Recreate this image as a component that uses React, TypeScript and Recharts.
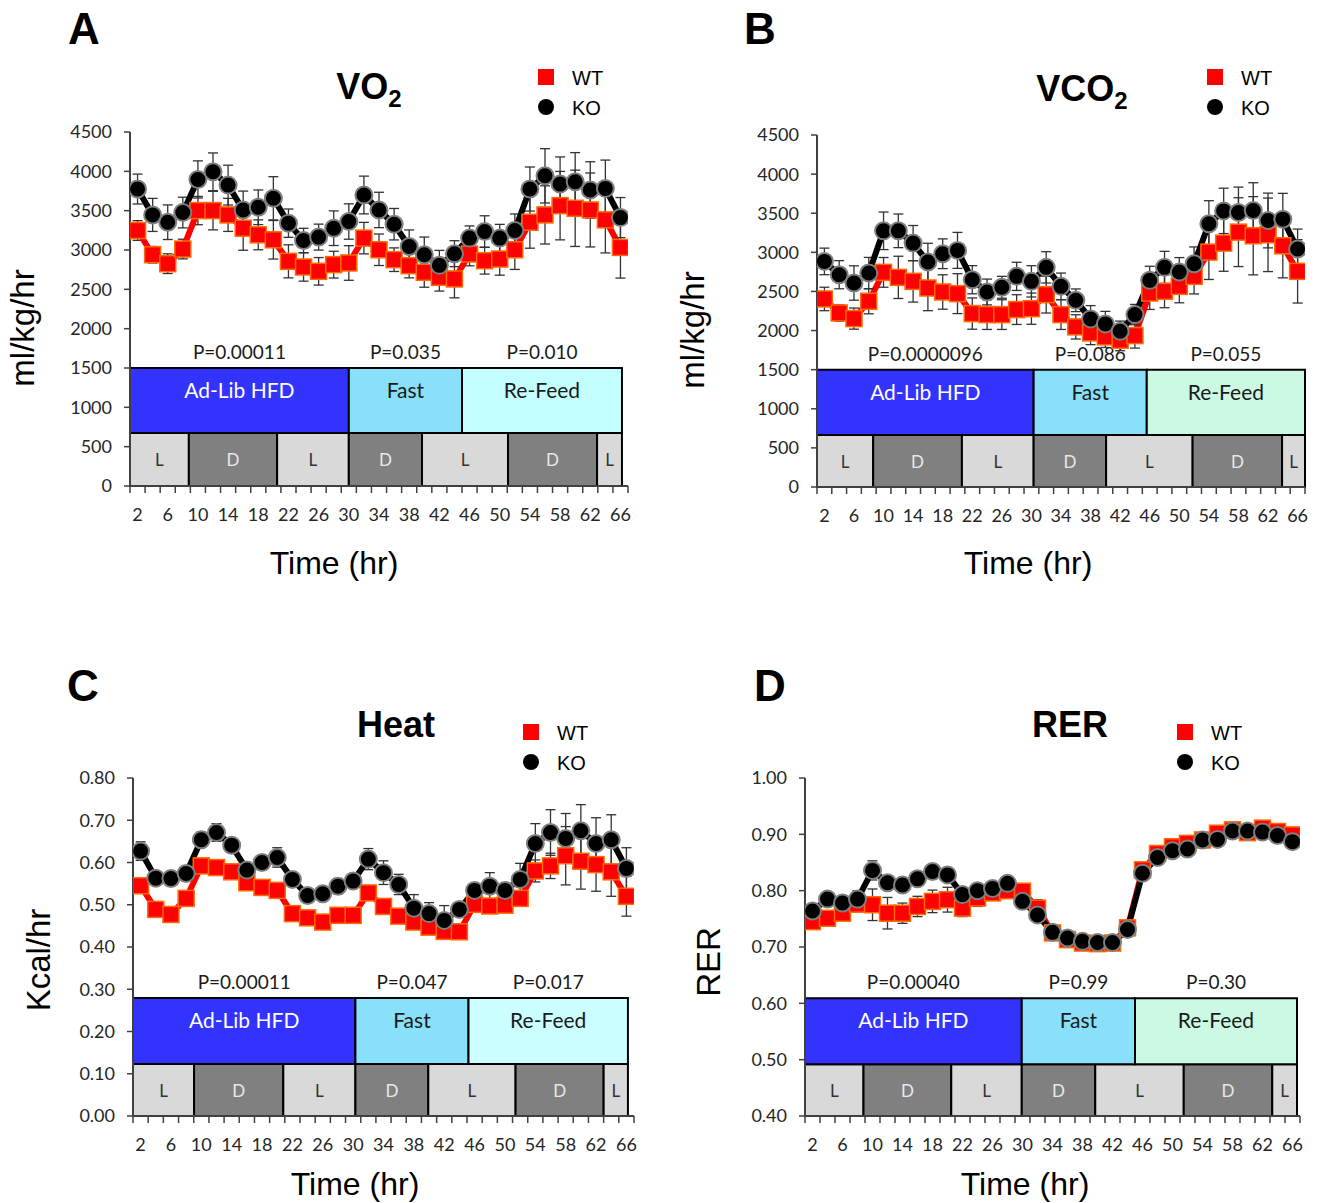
import React from "react";
import { ComposedChart, Line, XAxis, YAxis, ErrorBar, ReferenceArea } from "recharts";

const hours = [2, 4, 6, 8, 10, 12, 14, 16, 18, 20, 22, 24, 26, 28, 30, 32, 34, 36, 38, 40, 42, 44, 46, 48, 50, 52, 54, 56, 58, 60, 62, 64, 66];
const tickLabels = [2, 6, 10, 14, 18, 22, 26, 30, 34, 38, 42, 46, 50, 54, 58, 62, 66];

// VO2 (ml/kg/hr)
const vo2WT = [3248, 2940, 2826, 3012, 3501, 3501, 3446, 3277, 3193, 3130, 2856, 2784, 2729, 2814, 2835, 3151, 3003, 2877, 2801, 2717, 2653, 2632, 2949, 2864, 2885, 3003, 3353, 3446, 3564, 3530, 3509, 3383, 3033];
const vo2KO = [3775, 3446, 3353, 3476, 3897, 3994, 3825, 3509, 3543, 3657, 3341, 3121, 3164, 3277, 3362, 3699, 3509, 3328, 3045, 2940, 2805, 2953, 3151, 3235, 3151, 3248, 3775, 3943, 3838, 3868, 3762, 3783, 3412];
const vo2WTErr = [125, 105, 125, 125, 180, 245, 210, 280, 190, 245, 210, 180, 175, 170, 220, 200, 200, 150, 155, 190, 175, 240, 150, 170, 205, 250, 330, 370, 435, 485, 470, 420, 390];
const vo2KOErr = [190, 210, 220, 195, 236, 240, 253, 240, 220, 275, 180, 155, 165, 220, 225, 240, 225, 200, 210, 225, 190, 165, 155, 200, 175, 210, 280, 345, 345, 370, 360, 360, 255];

// VCO2 (ml/kg/hr)
const vco2WT = [2404, 2225, 2153, 2374, 2744, 2680, 2629, 2544, 2493, 2472, 2217, 2204, 2204, 2268, 2280, 2459, 2204, 2047, 1970, 1919, 1877, 1936, 2480, 2502, 2565, 2693, 3003, 3118, 3258, 3212, 3224, 3084, 2757];
const vco2KO = [2884, 2714, 2608, 2735, 3275, 3275, 3118, 2876, 2982, 3025, 2650, 2493, 2553, 2693, 2629, 2808, 2565, 2387, 2149, 2085, 1991, 2204, 2642, 2808, 2748, 2854, 3365, 3530, 3509, 3535, 3407, 3424, 3042];
const vco2WTErr = [150, 105, 135, 160, 190, 270, 265, 290, 220, 255, 200, 190, 190, 190, 200, 235, 190, 155, 150, 135, 135, 160, 210, 210, 210, 225, 350, 360, 440, 500, 470, 410, 405];
const vco2KOErr = [170, 180, 220, 200, 240, 215, 225, 240, 190, 230, 180, 165, 140, 180, 200, 200, 170, 145, 170, 160, 130, 130, 180, 205, 185, 215, 295, 290, 325, 355, 350, 330, 255];

// Heat (Kcal/hr)
const heatWT = [0.545, 0.489, 0.477, 0.515, 0.592, 0.588, 0.578, 0.552, 0.541, 0.534, 0.479, 0.469, 0.459, 0.475, 0.475, 0.528, 0.496, 0.473, 0.459, 0.447, 0.437, 0.436, 0.501, 0.497, 0.499, 0.515, 0.58, 0.592, 0.616, 0.603, 0.595, 0.578, 0.52];
const heatKO = [0.627, 0.563, 0.562, 0.574, 0.654, 0.671, 0.641, 0.582, 0.6, 0.612, 0.56, 0.522, 0.526, 0.544, 0.556, 0.608, 0.576, 0.548, 0.492, 0.479, 0.463, 0.489, 0.534, 0.544, 0.534, 0.56, 0.645, 0.671, 0.657, 0.675, 0.645, 0.654, 0.586];
const heatWTErr = [0.012, 0.01, 0.01, 0.012, 0.012, 0.01, 0.01, 0.012, 0.01, 0.01, 0.01, 0.008, 0.01, 0.01, 0.01, 0.012, 0.01, 0.01, 0.01, 0.01, 0.01, 0.012, 0.012, 0.012, 0.012, 0.014, 0.026, 0.03, 0.069, 0.066, 0.063, 0.058, 0.047];
const heatKOErr = [0.022, 0.01, 0.01, 0.012, 0.018, 0.021, 0.012, 0.01, 0.01, 0.023, 0.01, 0.008, 0.008, 0.018, 0.01, 0.025, 0.028, 0.024, 0.032, 0.026, 0.035, 0.015, 0.01, 0.032, 0.015, 0.038, 0.047, 0.054, 0.059, 0.062, 0.061, 0.059, 0.049];

// RER
const rerWT = [0.745, 0.751, 0.76, 0.776, 0.775, 0.76, 0.76, 0.772, 0.781, 0.784, 0.769, 0.787, 0.796, 0.8, 0.799, 0.769, 0.725, 0.713, 0.707, 0.706, 0.707, 0.734, 0.837, 0.866, 0.878, 0.884, 0.89, 0.902, 0.908, 0.903, 0.911, 0.905, 0.899];
const rerKO = [0.764, 0.785, 0.778, 0.785, 0.836, 0.814, 0.81, 0.821, 0.834, 0.828, 0.793, 0.8, 0.804, 0.813, 0.781, 0.757, 0.726, 0.716, 0.71, 0.708, 0.708, 0.731, 0.831, 0.859, 0.871, 0.874, 0.89, 0.891, 0.906, 0.906, 0.904, 0.898, 0.887];
const rerWTErr = [0.01, 0.01, 0.012, 0.012, 0.028, 0.028, 0.018, 0.018, 0.02, 0.022, 0.015, 0.015, 0.012, 0.012, 0.012, 0.015, 0.01, 0.008, 0.006, 0.006, 0.006, 0.006, 0.012, 0.012, 0.012, 0.012, 0.01, 0.01, 0.008, 0.008, 0.008, 0.008, 0.008];
const rerKOErr = [0.008, 0.008, 0.01, 0.015, 0.017, 0.012, 0.01, 0.01, 0.01, 0.012, 0.01, 0.008, 0.01, 0.01, 0.008, 0.008, 0.006, 0.006, 0.006, 0.006, 0.006, 0.006, 0.01, 0.012, 0.012, 0.012, 0.01, 0.008, 0.008, 0.008, 0.008, 0.008, 0.008];

// light/dark and feeding phase boxes (hour edges)
const ldNames = ["L", "D", "L", "D", "L", "D", "L"];
const phaseNames = ["Ad-Lib HFD", "Fast", "Re-Feed"];
const vo2P = ["P=0.00011", "P=0.035", "P=0.010"];
const vco2P = ["P=0.0000096", "P=0.086", "P=0.055"];
const heatP = ["P=0.00011", "P=0.047", "P=0.017"];
const rerP = ["P=0.00040", "P=0.99", "P=0.30"];

const W = 1318;
const H = 1203;
const YW = 80;
const XH = 50;
const CAL = "Lato, 'Open Sans', sans-serif";
const ARIAL = "'Liberation Sans', Arial, sans-serif";
const tickMarks = [...hours.map((h) => h - 1), 67];
const allTicks = [...tickMarks, ...tickLabels].sort((a, b) => a - b);

function TimeTick(props: any) {
  const { x, y, payload } = props;
  const v = payload.value;
  if (tickLabels.includes(v)) {
    return (
      <text x={x} y={y + 35} textAnchor="middle" fontSize={18} fontFamily={CAL} fill="#262626">
        {v}
      </text>
    );
  }
  return <line x1={x} x2={x} y1={y} y2={y + 7} stroke="#404040" strokeWidth={1.5} />;
}

function BoxLabel(props: any) {
  const { viewBox, name, p, color, size } = props;
  const { x, y, width, height } = viewBox;
  const cx = x + width / 2;
  return (
    <g>
      {p && (
        <text x={cx} y={y - 9} textAnchor="middle" fontSize={19} fontFamily={CAL} fill="#1a1a1a">
          {p}
        </text>
      )}
      <text
        x={cx}
        y={p ? y + 30 : y + height / 2 + 7}
        textAnchor="middle"
        fontSize={size}
        fontFamily={CAL}
        fill={color}
      >
        {name}
      </text>
    </g>
  );
}

function Square(props: any) {
  const { cx, cy, index } = props;
  return <rect key={index} x={cx - 8} y={cy - 8} width={16} height={16} fill="#FF0000" stroke="#FF6A00" strokeWidth={1.5} />;
}

type PanelCfg = {
  plot: { x0: number; x1: number; y0: number; y1: number };
  domain: [number, number];
  yTicks: number[];
  digits: number;
  wt: number[];
  ko: number[];
  wtErr: number[];
  koErr: number[];
  ldEdges: number[];
  phaseEdges: number[];
  ldTop: number;
  phaseTop: number;
  pvals: string[];
  refeed: string;
};

function Panel({ cfg }: { cfg: PanelCfg }) {
  const { plot } = cfg;
  const data = hours.map((t, i) => ({ t, wt: cfg.wt[i], ko: cfg.ko[i], wtErr: cfg.wtErr[i], koErr: cfg.koErr[i] }));
  const phaseColors = ["#3333FF", "#88E0FA", cfg.refeed];
  const phaseText = ["#FFFFFF", "#1a1a1a", "#1a1a1a"];
  return (
    <div style={{ position: "absolute", left: 0, top: 0 }}>
      <ComposedChart
        width={W}
        height={H}
        data={data}
        margin={{ top: plot.y0, left: plot.x0 - YW, right: W - plot.x1, bottom: H - plot.y1 - XH }}
      >
        <XAxis
          dataKey="t"
          type="number"
          domain={[1, 67]}
          ticks={allTicks}
          interval={0}
          allowDataOverflow
          height={XH}
          tickSize={0}
          tickMargin={0}
          tickLine={false}
          axisLine={{ stroke: "#404040", strokeWidth: 2 }}
          tick={(p: any) => <TimeTick key={p.index} {...p} />}
        />
        <YAxis
          type="number"
          domain={cfg.domain}
          ticks={cfg.yTicks}
          interval={0}
          allowDataOverflow
          width={YW}
          tickSize={6}
          tickMargin={12}
          axisLine={{ stroke: "#404040", strokeWidth: 2 }}
          tickLine={{ stroke: "#404040", strokeWidth: 1.5 }}
          tick={{ fontSize: 18, fontFamily: CAL, fill: "#262626" }}
          tickFormatter={(v: number) => v.toFixed(cfg.digits)}
        />
        {ldNames.map((n, i) => (
          <ReferenceArea
            key={"ld" + i}
            x1={cfg.ldEdges[i]}
            x2={cfg.ldEdges[i + 1]}
            y1={cfg.domain[0]}
            y2={cfg.ldTop}
            fill={n === "L" ? "#D9D9D9" : "#808080"}
            fillOpacity={1}
            stroke="#000"
            strokeWidth={2}
            ifOverflow="visible"
            label={<BoxLabel name={n} size={17} color={n === "L" ? "#333" : "#E8E8E8"} />}
          />
        ))}
        {phaseNames.map((n, i) => (
          <ReferenceArea
            key={"ph" + i}
            x1={cfg.phaseEdges[i]}
            x2={cfg.phaseEdges[i + 1]}
            y1={cfg.ldTop}
            y2={cfg.phaseTop}
            fill={phaseColors[i]}
            fillOpacity={1}
            stroke="#000"
            strokeWidth={2}
            ifOverflow="visible"
            label={<BoxLabel name={n} p={cfg.pvals[i]} size={21} color={phaseText[i]} />}
          />
        ))}
        <Line dataKey="wt" stroke="#FF0000" strokeWidth={6} dot={(p: any) => <Square key={p.index} {...p} />} isAnimationActive={false}>
          <ErrorBar dataKey="wtErr" direction="y" width={5} stroke="#333" strokeWidth={1.3} />
        </Line>
        <Line
          dataKey="ko"
          stroke="#000000"
          strokeWidth={6}
          dot={{ r: 8.5, fill: "#000", stroke: "#7F7F7F", strokeWidth: 2 }}
          isAnimationActive={false}
        >
          <ErrorBar dataKey="koErr" direction="y" width={5} stroke="#333" strokeWidth={1.3} />
        </Line>
      </ComposedChart>
    </div>
  );
}

function Txt({ x, y, size, bold, children, rotate, align }: any) {
  return (
    <div
      style={{
        position: "absolute",
        left: x,
        top: y,
        transform: `translate(${align === "left" ? "0" : "-50%"}, -50%)${rotate ? " rotate(-90deg)" : ""}`,
        fontFamily: ARIAL,
        fontSize: size,
        fontWeight: bold ? 700 : 400,
        color: "#000",
        whiteSpace: "nowrap",
        lineHeight: 1,
      }}
    >
      {children}
    </div>
  );
}

function Legend({ x, y }: { x: number; y: number }) {
  return (
    <>
      <div style={{ position: "absolute", left: x - 8, top: y - 8, width: 16, height: 16, background: "#FF0000" }} />
      <div style={{ position: "absolute", left: x - 8, top: y + 22, width: 16, height: 16, borderRadius: 8, background: "#000" }} />
      <Txt x={x + 26} y={y + 1} size={20} align="left">WT</Txt>
      <Txt x={x + 26} y={y + 31} size={20} align="left">KO</Txt>
    </>
  );
}

const cfgA: PanelCfg = {
  plot: { x0: 130, x1: 628, y0: 132, y1: 486 },
  domain: [0, 4500],
  yTicks: [0, 500, 1000, 1500, 2000, 2500, 3000, 3500, 4000, 4500],
  digits: 0,
  wt: vo2WT, ko: vo2KO, wtErr: vo2WTErr, koErr: vo2KOErr,
  ldEdges: [1, 8.8, 20.5, 30, 39.7, 51.1, 62.9, 66.2],
  phaseEdges: [1, 30, 45, 66.2],
  ldTop: 675, phaseTop: 1500, pvals: vo2P, refeed: "#C4FFFF",
};
const cfgB: PanelCfg = {
  plot: { x0: 817, x1: 1305, y0: 135, y1: 487 },
  domain: [0, 4500],
  yTicks: [0, 500, 1000, 1500, 2000, 2500, 3000, 3500, 4000, 4500],
  digits: 0,
  wt: vco2WT, ko: vco2KO, wtErr: vco2WTErr, koErr: vco2KOErr,
  ldEdges: [1, 8.6, 20.6, 30.3, 40.1, 51.8, 63.9, 67],
  phaseEdges: [1, 30.3, 45.6, 67],
  ldTop: 665, phaseTop: 1500, pvals: vco2P, refeed: "#CCF9E4",
};
const cfgC: PanelCfg = {
  plot: { x0: 133, x1: 634, y0: 778, y1: 1116 },
  domain: [0, 0.8],
  yTicks: [0, 0.1, 0.2, 0.3, 0.4, 0.5, 0.6, 0.7, 0.8],
  digits: 2,
  wt: heatWT, ko: heatKO, wtErr: heatWTErr, koErr: heatKOErr,
  ldEdges: [1, 9.05, 20.8, 30.3, 39.9, 51.4, 63, 66.2],
  phaseEdges: [1, 30.3, 45.2, 66.2],
  ldTop: 0.123, phaseTop: 0.279, pvals: heatP, refeed: "#CCFFFF",
};
const cfgD: PanelCfg = {
  plot: { x0: 805, x1: 1300, y0: 778, y1: 1116 },
  domain: [0.4, 1.0],
  yTicks: [0.4, 0.5, 0.6, 0.7, 0.8, 0.9, 1.0],
  digits: 2,
  wt: rerWT, ko: rerKO, wtErr: rerWTErr, koErr: rerKOErr,
  ldEdges: [1, 8.8, 20.5, 29.9, 39.7, 51.5, 63.3, 66.6],
  phaseEdges: [1, 29.9, 45, 66.6],
  ldTop: 0.492, phaseTop: 0.609, pvals: rerP, refeed: "#CCF9E4",
};

export default function App() {
  return (
    <div style={{ position: "absolute", left: 0, top: 0, width: W, height: H, background: "#fff", overflow: "hidden" }}>
      <Panel cfg={cfgA} />
      <Panel cfg={cfgB} />
      <Panel cfg={cfgC} />
      <Panel cfg={cfgD} />

      <Txt x={84} y={29} size={44} bold>A</Txt>
      <Txt x={760} y={29} size={44} bold>B</Txt>
      <Txt x={83} y={686} size={44} bold>C</Txt>
      <Txt x={770} y={686} size={44} bold>D</Txt>

      <Txt x={369} y={90} size={36} bold>VO<sub style={{ fontSize: 24 }}>2</sub></Txt>
      <Txt x={1082} y={92} size={36} bold>VCO<sub style={{ fontSize: 24 }}>2</sub></Txt>
      <Txt x={396} y={725} size={36} bold>Heat</Txt>
      <Txt x={1070} y={725} size={36} bold>RER</Txt>

      <Legend x={546} y={77} />
      <Legend x={1215} y={77} />
      <Legend x={531} y={732} />
      <Legend x={1185} y={732} />

      <Txt x={22} y={328} size={33} rotate>ml/kg/hr</Txt>
      <Txt x={692} y={330} size={33} rotate>ml/kg/hr</Txt>
      <Txt x={38} y={960} size={33} rotate>Kcal/hr</Txt>
      <Txt x={708} y={962} size={33} rotate>RER</Txt>

      <Txt x={334} y={563} size={32}>Time (hr)</Txt>
      <Txt x={1028} y={563} size={32}>Time (hr)</Txt>
      <Txt x={355} y={1184} size={32}>Time (hr)</Txt>
      <Txt x={1025} y={1184} size={32}>Time (hr)</Txt>
    </div>
  );
}
